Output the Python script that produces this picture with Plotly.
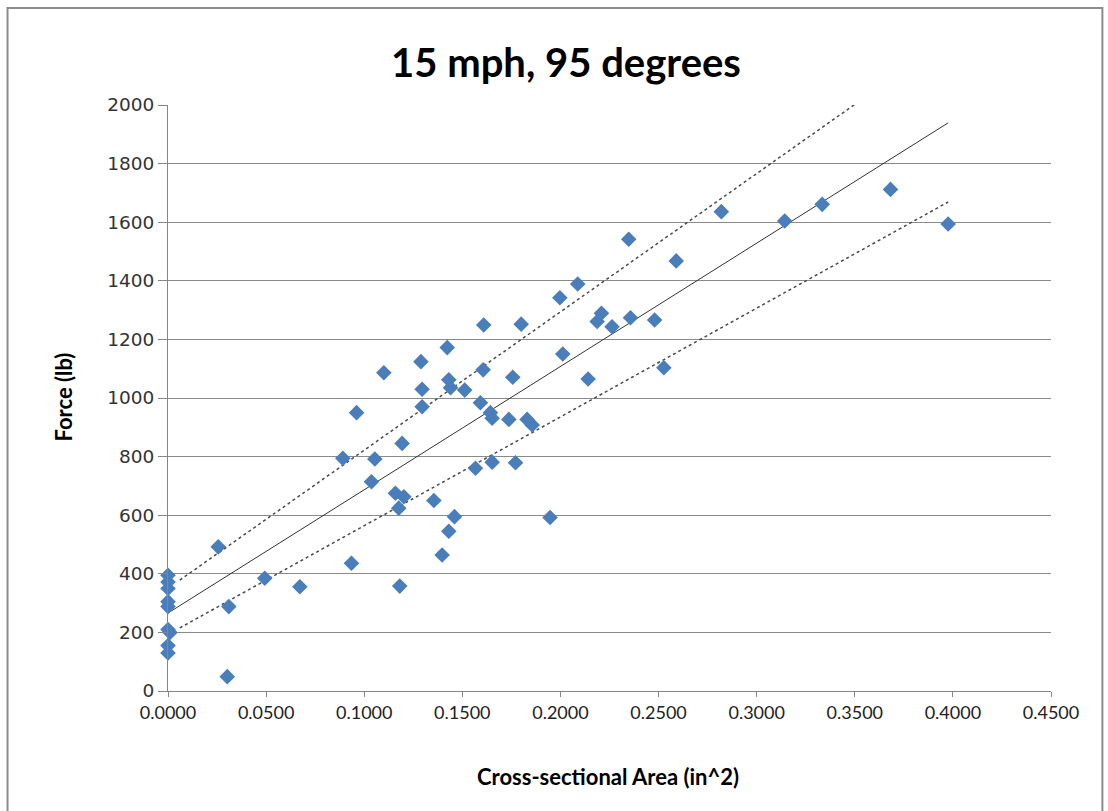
import plotly.graph_objects as go

# Data
area = [0.0, 0.0, 0.0, 0.0, 0.0, 0.0, 0.001, 0.0, 0.0,
        0.0256, 0.0310, 0.0302, 0.0493, 0.0672, 0.0891, 0.0935, 0.0961,
        0.1037, 0.1054, 0.1100, 0.1159, 0.1176, 0.1181, 0.1193, 0.1202,
        0.1289, 0.1295, 0.1295, 0.1355, 0.1397, 0.1423, 0.1431, 0.1431,
        0.1440, 0.1460, 0.1512, 0.1567, 0.1592, 0.1609, 0.1606, 0.1643,
        0.1652, 0.1652, 0.1737, 0.1757, 0.1771, 0.1800, 0.1830, 0.1856,
        0.1947, 0.1997, 0.2012, 0.2088, 0.2141, 0.2187, 0.2209, 0.2263,
        0.2348, 0.2357, 0.2480, 0.2527, 0.2590, 0.2820, 0.3143, 0.3334,
        0.3682, 0.3976]
force = [395, 372, 350, 305, 288, 210, 200, 155, 130,
         492, 288, 49, 385, 356, 794, 436, 950,
         714, 792, 1086, 675, 624, 358, 845, 663,
         1124, 1030, 970, 650, 464, 1172, 545, 1062,
         1035, 595, 1027, 760, 984, 1249, 1096, 950,
         931, 781, 927, 1071, 779, 1252, 927, 908,
         592, 1342, 1150, 1389, 1065, 1261, 1289, 1243,
         1542, 1274, 1266, 1103, 1468, 1636, 1604, 1661,
         1712, 1594]

# Trend line parameters (intercept, slope)
fit_line = (266, 4208)
upper_line = (350, 4720)
lower_line = (193, 3712)
fit_x = [0.0, 0.3976]
band_x = [0.006, 0.3976]

x_ticks = [0.0, 0.05, 0.10, 0.15, 0.20, 0.25, 0.30, 0.35, 0.40, 0.45]
y_ticks = [0, 200, 400, 600, 800, 1000, 1200, 1400, 1600, 1800, 2000]


def line_y(params, xs):
    b, m = params
    return [b + m * x for x in xs]


fig = go.Figure()

for params in (upper_line, lower_line):
    fig.add_trace(go.Scatter(x=band_x, y=line_y(params, band_x), mode="lines",
                             line=dict(color="#4a4a4a", width=1.5, dash="3px,3px"),
                             showlegend=False, hoverinfo="skip"))
fig.add_trace(go.Scatter(x=fit_x, y=line_y(fit_line, fit_x), mode="lines",
                         line=dict(color="#333333", width=1),
                         showlegend=False, hoverinfo="skip"))
fig.add_trace(go.Scatter(x=area, y=force, mode="markers",
                         marker=dict(symbol="diamond", size=12, color="#4A7EBB",
                                     line=dict(width=0)),
                         showlegend=False, cliponaxis=False))

L, R, T, B = 167.5, 1050.6, 105, 691
W, H = 1108, 811
pw, ph = R - L, B - T

fig.update_layout(
    width=W, height=H,
    margin=dict(l=L, r=W - R, t=T, b=H - B, pad=0),
    paper_bgcolor="white", plot_bgcolor="white",
    title=dict(text="<b>15 mph, 95 degrees</b>", x=566 / W, xanchor="center",
               y=1 - 63 / H, yanchor="middle",
               font=dict(family="Lato", size=40, color="black")),
    xaxis=dict(range=[0, 0.45], tickvals=x_ticks,
               ticktext=[f"{v:.4f}" for v in x_ticks],
               showgrid=False, zeroline=False, showline=True,
               linecolor="#868686", linewidth=1, ticks="outside",
               ticklen=5, tickcolor="#868686",
               tickfont=dict(family="Lato", size=18, color="#222222")),
    yaxis=dict(range=[0, 2000], tickvals=y_ticks,
               showgrid=True, gridcolor="#8a8a8a", gridwidth=1,
               zeroline=False, showline=True,
               linecolor="#868686", linewidth=1, ticks="outside",
               ticklen=9, tickcolor="#868686",
               tickfont=dict(family="DejaVu Sans", size=18.5, color="#333333")),
    annotations=[
        dict(text="<b>Cross-sectional Area (in^2)</b>", xref="paper", yref="paper",
             x=(608 - L) / pw, y=(B - 776) / ph, xanchor="center", yanchor="middle",
             showarrow=False, font=dict(family="Lato", size=22, color="black")),
        dict(text="<b>Force (lb)</b>", xref="paper", yref="paper",
             x=(62 - L) / pw, y=(B - 397) / ph, xanchor="center", yanchor="middle",
             textangle=-90, showarrow=False,
             font=dict(family="Lato", size=22, color="black")),
    ],
    shapes=[
        dict(type="rect", xref="paper", yref="paper",
             x0=(7 - L) / pw, x1=(1102 - L) / pw,
             y0=(B - 830) / ph, y1=(B - 8) / ph,
             line=dict(color="#8c8c8c", width=2), layer="below"),
    ],
)

fig.write_html("out.html",
               config={"displayModeBar": False},
               post_script="document.body.style.margin='0';document.body.style.overflow='hidden';")
